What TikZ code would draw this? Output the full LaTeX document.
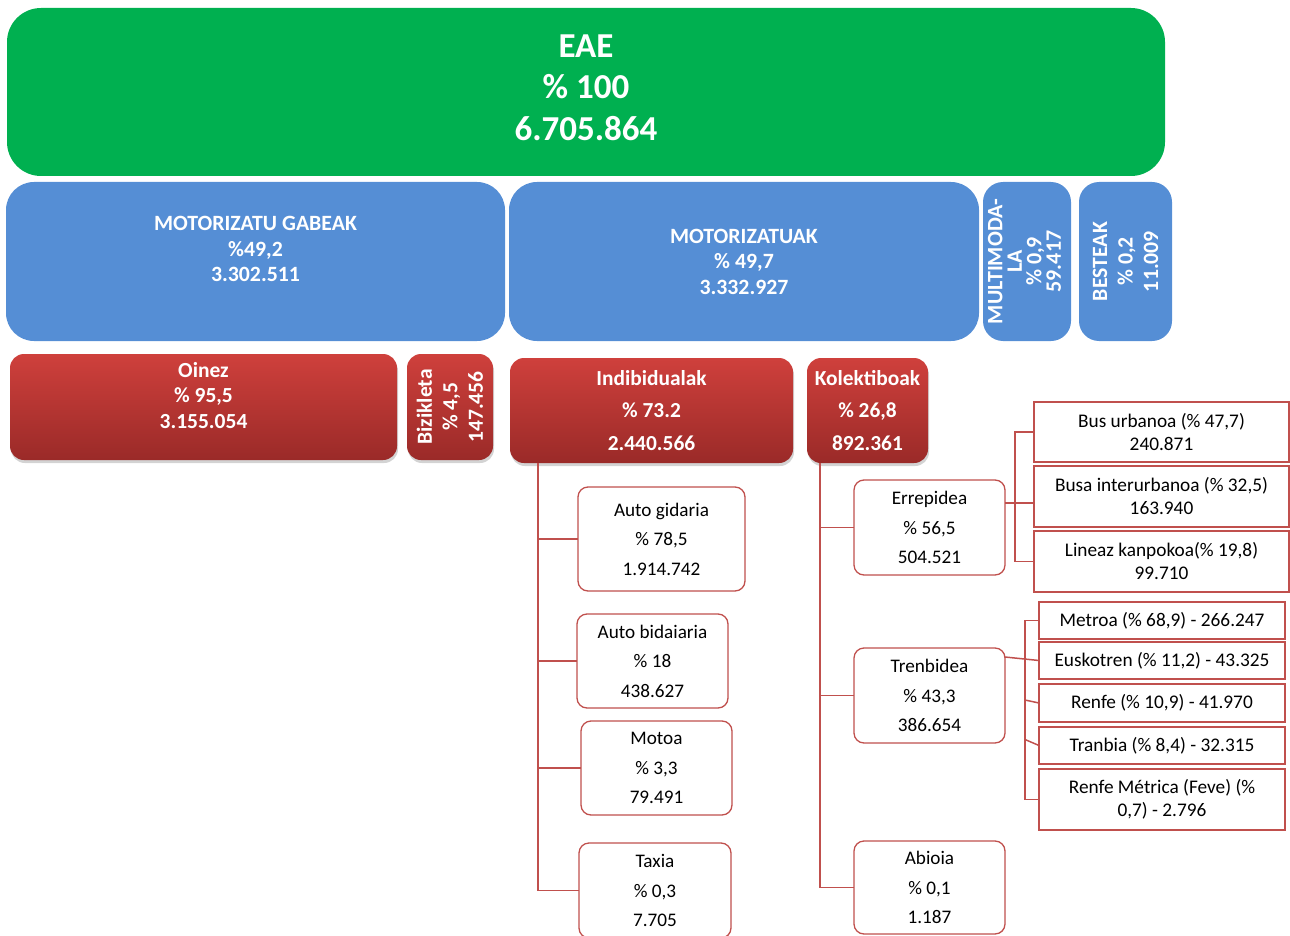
\documentclass[tikz,border=0pt]{standalone}
\usepackage{fontspec}
\setmainfont{Carlito}
\usetikzlibrary{shadows}
\definecolor{eaegreen}{HTML}{00B050}
\definecolor{motblue}{HTML}{558ED5}
\definecolor{redtop}{HTML}{CF403C}
\definecolor{redbot}{HTML}{9A2A28}
\definecolor{lred}{HTML}{C0504D}
\tikzset{
  boxbase/.style={inner sep=0pt, outer sep=0pt, align=center},
  greenbox/.style={boxbase, fill=eaegreen, rounded corners=34pt},
  greentext/.style={boxbase, text=white, font=\bfseries\fontsize{35}{41.5}\selectfont},
  bluebox/.style={boxbase, fill=motblue, rounded corners=28pt, text=white, font=\bfseries\fontsize{21.8}{25.5}\selectfont},
  bluetext/.style={boxbase, text=white, font=\bfseries\fontsize{21.8}{25.5}\selectfont},
  redbox/.style={boxbase, top color=redtop, bottom color=redbot, rounded corners=14pt,
    drop shadow={shadow xshift=1pt, shadow yshift=-3pt, opacity=0.35},
    text=white, font=\bfseries\fontsize{21.5}{25.5}\selectfont},
  redtext/.style={boxbase, text=white, font=\bfseries\fontsize{21.5}{25.5}\selectfont},
  whitebox/.style={boxbase, draw=lred, line width=1.3pt, fill=white, rounded corners=10pt,
    font=\fontsize{19.2}{29.5}\selectfont},
  rectbox/.style={boxbase, draw=lred, line width=1.2pt, fill=white,
    font=\fontsize{19.3}{23}\selectfont},
  conn/.style={draw=lred, line width=1.5pt}
}
\begin{document}
\begin{tikzpicture}[x=1pt,y=-1pt]
\useasboundingbox (0,0) rectangle (1290,936);
% top
\node[greenbox, minimum width=1158pt, minimum height=168pt] (eae) at (586,92) {};
\node[greentext] (eaet) at (586,87.5) {EAE\\\% 100\\6.705.864};
% blue row
\node[bluebox, minimum width=499pt, minimum height=159pt] (mg) at (255.5,261.5) {};
\node[bluetext] (mgt) at (255.5,249) {MOTORIZATU GABEAK\\\%49,2\\3.302.511};
\node[bluebox, minimum width=470pt, minimum height=159pt] (mot) at (744,261.5) {MOTORIZATUAK\\\% 49,7\\3.332.927};
\node[bluebox, rounded corners=20pt, minimum width=88pt, minimum height=159pt] (mm) at (1027,261.5) {};
\node[bluetext, rotate=90, font=\bfseries\fontsize{22}{19.5}\selectfont] (mmt) at (1024.5,261.5) {MULTIMODA-\\LA\\\% 0,9\\59.417};
\node[bluebox, rounded corners=20pt, minimum width=93pt, minimum height=159pt] (be) at (1125.5,261.5) {};
\node[bluetext, rotate=90] (bet) at (1125.5,261.5) {BESTEAK\\\% 0,2\\11.009};
% red row
\node[redbox, minimum width=387pt, minimum height=106pt] (oi) at (203.5,407) {};
\node[redtext] (oit) at (203.5,395.5) {Oinez\\\% 95,5\\3.155.054};
\node[redbox, minimum width=86pt, minimum height=106pt] (bz) at (450,407) {};
\node[redtext, rotate=90] (bzt) at (450,407) {Bizikleta\\\% 4,5\\147.456};
\node[redbox, minimum width=283pt, minimum height=105pt, font=\bfseries\fontsize{21.4}{32.5}\selectfont] (ind) at (651.5,410.5) {Indibidualak\\\% 73.2\\2.440.566};
\node[redbox, minimum width=121pt, minimum height=105pt, font=\bfseries\fontsize{21.4}{32.5}\selectfont] (kol) at (867.5,410.5) {Kolektiboak\\\% 26,8\\892.361};
% individual branch
\node[whitebox, minimum width=167pt, minimum height=104pt] (ag) at (661.5,539) {Auto gidaria\\\% 78,5\\1.914.742};
\node[whitebox, minimum width=151pt, minimum height=94pt] (abd) at (652.5,661) {Auto bidaiaria\\\% 18\\438.627};
\node[whitebox, minimum width=151pt, minimum height=94pt] (mo) at (656.5,768) {Motoa\\\% 3,3\\79.491};
\node[whitebox, minimum width=152pt, minimum height=95pt] (ta) at (655,890.5) {Taxia\\\% 0,3\\7.705};
% collective branch
\node[whitebox, minimum width=151pt, minimum height=95pt] (er) at (929.5,527.5) {Errepidea\\\% 56,5\\504.521};
\node[whitebox, minimum width=151pt, minimum height=95pt] (tr) at (929.5,695.5) {Trenbidea\\\% 43,3\\386.654};
\node[whitebox, minimum width=151pt, minimum height=93pt] (ai) at (929.5,887.5) {Abioia\\\% 0,1\\1.187};
% road
\node[rectbox, minimum width=255pt, minimum height=60pt] (bu) at (1161.5,432) {Bus urbanoa (\% 47,7)\\240.871};
\node[rectbox, minimum width=255pt, minimum height=61pt] (bi) at (1161.5,496.5) {Busa interurbanoa (\% 32,5)\\163.940};
\node[rectbox, minimum width=255pt, minimum height=61pt] (lk) at (1161.5,561.5) {Lineaz kanpokoa(\% 19,8)\\99.710};
% rail
\node[rectbox, minimum width=246pt, minimum height=37pt] (me) at (1162,620.5) {Metroa (\% 68,9) - 266.247};
\node[rectbox, minimum width=246pt, minimum height=37pt] (eu) at (1162,660.5) {Euskotren (\% 11,2) - 43.325};
\node[rectbox, minimum width=246pt, minimum height=38pt] (re) at (1162,703) {Renfe (\% 10,9) - 41.970};
\node[rectbox, minimum width=246pt, minimum height=37pt] (tb) at (1162,745.5) {Tranbia (\% 8,4) - 32.315};
\node[rectbox, minimum width=246pt, minimum height=61pt] (rm) at (1162,799.5) {Renfe Métrica (Feve) (\%\\0,7) - 2.796};
% connectors: individual
\coordinate (itr) at (538,463);
\draw[conn] (itr) |- (ta.west);
\draw[conn] (itr |- ag.west) -- (ag.west);
\draw[conn] (itr |- abd.west) -- (abd.west);
\draw[conn] (itr |- mo.west) -- (mo.west);
% connectors: collective
\coordinate (ktr) at (820,463);
\draw[conn] (ktr) |- (ai.west);
\draw[conn] (ktr |- er.west) -- (er.west);
\draw[conn] (ktr |- tr.west) -- (tr.west);
% road group
\coordinate (etr) at (1015,500);
\draw[conn] (bu.west) -- (etr |- bu.west) -- (etr |- lk.west) -- (lk.west);
\coordinate (erout) at ([yshift=24.5pt]er.east);
\draw[conn] (erout) -- (erout -| bi.west);
% rail group
\coordinate (ttr) at (1025,700);
\draw[conn] (me.west) -- (ttr |- me.west) -- (ttr |- rm.west) -- (rm.west);
\draw[conn] (ttr |- re.west) ++(0,-3) -- (re.west);
\draw[conn] (ttr |- tb.west) ++(0,-6) -- (tb.west);
\coordinate (trout) at ([yshift=38.5pt]tr.east);
\draw[conn] (trout) -- (eu.west);
\end{tikzpicture}
\end{document}
